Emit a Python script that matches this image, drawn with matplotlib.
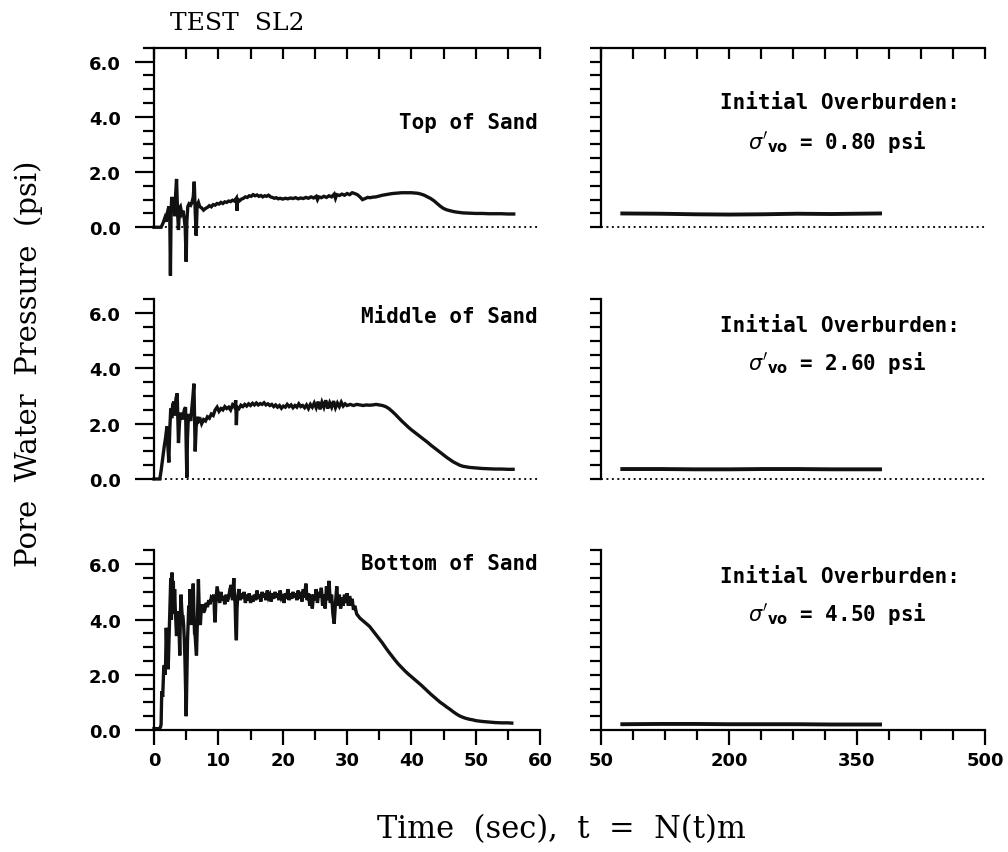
"""Pore water pressure records for test SL2 (top / middle / bottom of sand)."""

import matplotlib.pyplot as plt
from matplotlib.ticker import FixedLocator, MultipleLocator, NullFormatter

# --- data -------------------------------------------------------------------
top_t = [0.0, 1.1, 1.4, 1.7, 1.9, 2.1, 2.3, 2.45, 2.55, 2.65, 2.75, 2.9, 3.05, 3.2, 3.35,
         3.5, 3.65, 3.8, 3.95, 4.1, 4.3, 4.5, 4.7, 4.85, 5.0, 5.1, 5.25, 5.45, 5.7, 5.9,
         6.1, 6.25, 6.4, 6.55, 6.7, 6.9, 7.1, 7.4, 7.7, 8.0, 8.3, 8.6, 8.9, 9.2, 9.5,
         9.8, 10.1, 10.4, 10.7, 11.0, 11.3, 11.6, 11.9, 12.2, 12.5, 12.8, 12.9, 13.0, 13.3,
         13.6, 13.9, 14.2, 14.5, 14.8, 15.1, 15.4, 15.7, 16.0, 16.3, 16.6, 16.9, 17.2, 17.5,
         17.8, 18.1, 18.4, 18.7, 19.0, 19.3, 19.6, 20.0, 20.4, 20.8, 21.2, 21.6, 22.0, 22.4,
         22.8, 23.2, 23.6, 24.0, 24.4, 24.8, 25.2, 25.4, 25.6, 26.0, 26.4, 26.8, 27.2, 27.6,
         28.0, 28.2, 28.4, 28.8, 29.2, 29.6, 30.0, 30.4, 30.8, 31.2, 31.6, 32.0, 32.4, 32.8,
         33.2, 33.6, 34.0, 34.5, 35.0, 35.5, 36.0, 36.5, 37.0, 37.5, 38.0, 38.5, 39.0, 39.5,
         40.0, 40.5, 41.0, 41.5, 42.0, 42.5, 43.0, 43.5, 44.0, 44.5, 45.0, 45.5, 46.0, 46.5,
         47.0, 48.0, 49.0, 50.0, 51.0, 52.0, 53.0, 54.0, 55.0, 55.9]
top_p = [0.0, 0.0, 0.15, 0.35, 0.2, 0.55, 0.75, 0.3, -1.75, 0.5, 1.1, 0.8, 1.0, 0.4, 1.15,
         1.75, 0.6, -0.1, 0.7, 0.75, 0.5, 0.6, 0.3, -0.05, -1.25, 0.2, 0.75, 0.85, 0.8, 0.9,
         1.1, 1.65, 0.6, -0.3, 0.8, 0.9, 0.75, 0.7, 0.62, 0.68, 0.72, 0.78, 0.74, 0.82, 0.8,
         0.86, 0.84, 0.9, 0.86, 0.92, 0.9, 0.95, 0.93, 0.98, 0.95, 1.05, 0.6, 1.02, 0.96,
         1.02, 1.05, 1.1, 1.08, 1.14, 1.12, 1.18, 1.14, 1.17, 1.12, 1.15, 1.1, 1.14, 1.12,
         1.16, 1.1, 1.08, 1.05, 1.07, 1.03, 1.05, 1.02, 1.05, 1.03, 1.06, 1.04, 1.07, 1.03,
         1.06, 1.04, 1.08, 1.05, 1.1, 1.06, 1.12, 1.0, 1.1, 1.07, 1.12, 1.08, 1.14, 1.1,
         1.2, 1.05, 1.18, 1.15, 1.2, 1.16, 1.22, 1.18, 1.25, 1.22, 1.18, 1.1, 1.0, 1.04,
         1.08, 1.07, 1.09, 1.1, 1.13, 1.16, 1.18, 1.2, 1.22, 1.23, 1.24, 1.25, 1.25, 1.25,
         1.25, 1.24, 1.23, 1.2, 1.16, 1.1, 1.04, 0.96, 0.86, 0.76, 0.68, 0.63, 0.6, 0.57,
         0.55, 0.52, 0.51, 0.5, 0.5, 0.49, 0.49, 0.49, 0.48, 0.48]

mid_t = [0.0, 0.9, 1.1, 1.4, 1.6, 1.8, 2.0, 2.15, 2.3, 2.45, 2.6, 2.75, 2.9, 3.1, 3.25,
         3.4, 3.6, 3.7, 3.8, 3.95, 4.1, 4.3, 4.5, 4.7, 4.9, 5.0, 5.1, 5.2, 5.35, 5.5, 5.7,
         5.9, 6.05, 6.2, 6.3, 6.4, 6.55, 6.8, 7.0, 7.2, 7.4, 7.7, 8.0, 8.3, 8.6, 8.9, 9.2,
         9.5, 9.8, 10.1, 10.4, 10.7, 11.0, 11.3, 11.6, 11.9, 12.2, 12.5, 12.7, 12.8, 12.9,
         13.2, 13.5, 13.8, 14.1, 14.4, 14.7, 15.0, 15.3, 15.6, 15.9, 16.2, 16.5, 16.8, 17.1,
         17.4, 17.7, 18.0, 18.3, 18.6, 18.9, 19.2, 19.5, 19.8, 20.1, 20.4, 20.7, 21.0, 21.3,
         21.6, 21.9, 22.2, 22.5, 22.8, 23.1, 23.4, 23.7, 24.0, 24.3, 24.6, 24.9, 25.2, 25.5,
         25.8, 26.1, 26.4, 26.7, 27.0, 27.3, 27.6, 27.9, 28.2, 28.5, 28.8, 29.1, 29.4, 29.7,
         30.0, 30.5, 31.0, 31.5, 32.0, 32.5, 33.0, 33.5, 34.0, 34.5, 35.0, 35.5, 36.0, 36.5,
         37.0, 37.5, 38.0, 38.5, 39.0, 39.5, 40.0, 40.5, 41.0, 41.5, 42.0, 42.5, 43.0, 43.5,
         44.0, 44.5, 45.0, 45.5, 46.0, 46.5, 47.0, 47.5, 48.0, 49.0, 50.0, 51.0, 52.0, 53.0,
         54.0, 55.0, 55.8]
mid_p = [0.0, 0.0, 0.3, 0.85, 1.2, 1.5, 1.9, 1.2, 0.6, 1.8, 2.55, 2.2, 2.7, 2.8, 2.3,
         2.9, 3.1, 2.2, 1.3, 2.0, 2.4, 2.2, 2.2, 2.5, 2.6, 1.2, 0.05, 1.5, 2.3, 2.3, 2.1,
         2.6, 3.0, 3.45, 2.2, 1.0, 1.9, 2.25, 2.1, 2.15, 2.0, 2.15, 2.1, 2.25, 2.2, 2.35, 2.3,
         2.5, 2.6, 2.45, 2.55, 2.5, 2.62, 2.55, 2.6, 2.5, 2.68, 2.6, 2.85, 1.95, 2.6,
         2.55, 2.67, 2.62, 2.7, 2.64, 2.72, 2.66, 2.74, 2.68, 2.75, 2.68, 2.73, 2.7, 2.76,
         2.68, 2.72, 2.66, 2.7, 2.62, 2.68, 2.6, 2.66, 2.56, 2.64, 2.6, 2.7, 2.62, 2.68,
         2.58, 2.66, 2.6, 2.72, 2.62, 2.66, 2.58, 2.68, 2.55, 2.7, 2.6, 2.75, 2.58, 2.8,
         2.52, 2.78, 2.6, 2.85, 2.55, 2.76, 2.6, 2.82, 2.58, 2.75, 2.62, 2.78, 2.64, 2.72,
         2.66, 2.7, 2.66, 2.7, 2.68, 2.66, 2.68, 2.67, 2.68, 2.7, 2.68, 2.66, 2.62, 2.55,
         2.45, 2.34, 2.22, 2.1, 1.99, 1.88, 1.78, 1.69, 1.6, 1.51, 1.42, 1.33, 1.23, 1.14,
         1.05, 0.96, 0.87, 0.78, 0.7, 0.62, 0.56, 0.5, 0.46, 0.42, 0.4, 0.38, 0.37, 0.36,
         0.36, 0.35, 0.35]

bot_t = [0.0, 0.8, 1.0, 1.1, 1.2, 1.35, 1.5, 1.6, 1.7, 1.8, 1.9, 2.0, 2.1, 2.2, 2.3, 2.4,
         2.5, 2.6, 2.7, 2.8, 2.9, 3.0, 3.1, 3.2, 3.3, 3.4, 3.5, 3.6, 3.7, 3.8, 3.9, 4.0,
         4.1, 4.2, 4.3, 4.4, 4.5, 4.6, 4.7, 4.8, 4.9, 5.0, 5.1, 5.2, 5.3, 5.4, 5.5, 5.6,
         5.7, 5.8, 5.9, 6.0, 6.1, 6.2, 6.3, 6.4, 6.5, 6.6, 6.7, 6.8, 6.9, 7.0, 7.1, 7.2,
         7.35, 7.5, 7.7, 7.9, 8.1, 8.3, 8.5, 8.7, 8.9, 9.1, 9.3, 9.4, 9.5, 9.6, 9.8, 10.0,
         10.2, 10.4, 10.6, 10.8, 11.0, 11.2, 11.4, 11.6, 11.8, 12.0, 12.2, 12.4, 12.5, 12.6,
         12.7, 12.8, 12.9, 13.0, 13.2, 13.4, 13.6, 13.8, 14.0, 14.2, 14.4, 14.6, 14.8, 15.0,
         15.2, 15.4, 15.6, 15.8, 16.0, 16.2, 16.4, 16.6, 16.8, 17.0, 17.2, 17.4, 17.6, 17.8,
         18.0, 18.2, 18.4, 18.6, 18.8, 19.0, 19.2, 19.4, 19.6, 19.8, 20.0, 20.2, 20.4, 20.6,
         20.8, 21.0, 21.2, 21.4, 21.6, 21.8, 22.0, 22.2, 22.4, 22.6, 22.8, 23.0, 23.2, 23.4,
         23.6, 23.8, 24.0, 24.2, 24.4, 24.6, 24.8, 25.0, 25.2, 25.4, 25.6, 25.8, 26.0, 26.2,
         26.4, 26.6, 26.8, 27.0, 27.2, 27.4, 27.6, 27.8, 28.0, 28.2, 28.4, 28.6, 28.8, 29.0,
         29.2, 29.4, 29.6, 29.8, 30.0, 30.2, 30.4, 30.6, 30.8, 31.0, 31.2, 31.5, 32.0, 32.5,
         33.0, 33.5, 34.0, 34.5, 35.0, 35.5, 36.0, 36.5, 37.0, 37.5, 38.0, 38.5, 39.0, 39.5,
         40.0, 40.5, 41.0, 41.5, 42.0, 42.5, 43.0, 43.5, 44.0, 44.5, 45.0, 45.5, 46.0, 46.5,
         47.0, 47.5, 48.0, 48.5, 49.0, 49.5, 50.0, 51.0, 52.0, 53.0, 54.0, 55.0, 55.6]
bot_p = [0.05, 0.05, 0.1, 0.2, 1.4, 1.2, 2.2, 2.35, 2.0, 2.4, 3.7, 2.9, 3.2, 2.2, 3.0, 3.8,
         4.6, 5.5, 4.0, 5.7, 4.5, 5.4, 4.2, 5.1, 4.4, 3.9, 3.4, 4.3, 4.1, 4.0, 3.6, 2.7,
         4.2, 4.9, 4.4, 4.1, 4.1, 3.8, 3.3, 2.6, 1.5, 0.5, 1.8, 3.2, 3.9, 4.5, 4.2, 5.1,
         4.3, 3.8, 4.6, 4.9, 5.3, 4.2, 3.5, 3.4, 3.0, 2.7, 3.6, 4.5, 5.45, 4.6, 4.0, 3.8,
         4.4, 4.55, 4.25, 4.35, 4.6, 4.45, 4.7, 4.55, 4.8, 4.75, 4.9, 4.2, 3.9, 4.6, 5.2, 4.9,
         4.6, 5.0, 4.7, 4.85, 4.55, 4.9, 4.65, 4.8, 5.1, 5.25, 4.7, 5.5, 4.9, 4.6,
         3.7, 3.25, 4.4, 4.8, 5.1, 4.7, 4.95, 4.75, 5.0, 4.6, 4.9, 4.7, 4.95, 4.6,
         4.85, 4.65, 4.9, 4.7, 5.05, 4.75, 4.9, 4.65, 5.0, 4.8, 4.95, 4.7, 5.05, 4.8,
         4.9, 4.65, 4.95, 4.75, 5.0, 4.8, 4.95, 4.7, 5.05, 4.8, 4.9, 4.6, 4.95, 4.75,
         5.1, 4.7, 4.95, 4.75, 5.0, 4.8, 4.95, 4.7, 5.05, 4.75, 5.0, 4.65, 5.1, 4.8,
         5.3, 4.7, 4.95, 4.5, 4.9, 4.4, 4.9, 4.7, 5.1, 4.6, 5.0, 4.8, 5.15, 4.5,
         4.9, 4.4, 5.2, 4.7, 5.4, 4.6, 4.9, 4.2, 3.85, 4.6, 5.2, 4.5, 4.9, 4.4,
         4.8, 4.5, 4.9, 4.6, 4.95, 4.5, 4.85, 4.5, 4.75, 4.35, 4.5, 4.2, 4.05, 3.95,
         3.85, 3.75, 3.6, 3.45, 3.3, 3.15, 2.98, 2.82, 2.67, 2.52, 2.38, 2.26, 2.14, 2.03,
         1.93, 1.83, 1.73, 1.63, 1.52, 1.41, 1.3, 1.2, 1.1, 1.0, 0.92, 0.83, 0.75, 0.66,
         0.58, 0.51, 0.46, 0.42, 0.39, 0.37, 0.34, 0.31, 0.29, 0.27, 0.26, 0.26, 0.25]

# N(t) scale (right-hand panels)
top_n = [75, 120, 160, 200, 240, 280, 320, 377]
top_n_p = [0.5, 0.49, 0.47, 0.46, 0.47, 0.49, 0.48, 0.5]
mid_n = [75, 120, 160, 200, 240, 280, 320, 377]
mid_n_p = [0.36, 0.36, 0.35, 0.35, 0.36, 0.36, 0.35, 0.35]
bot_n = [75, 120, 160, 200, 240, 280, 320, 377]
bot_n_p = [0.21, 0.22, 0.22, 0.21, 0.21, 0.21, 0.2, 0.2]

labels = ["Top of Sand", "Middle of Sand", "Bottom of Sand"]
overburden = ["0.80", "2.60", "4.50"]
y_ticks = [0.0, 2.0, 4.0, 6.0]
x_ticks_right = [50, 200, 350, 500]

# --- layout -------------------------------------------------------------------
fig = plt.figure(figsize=(10.08, 8.53), dpi=100)

row_bottoms = [0.7324, 0.4373, 0.1430]
row_h = 0.2105
left_x, left_w = 0.1528, 0.383
right_x, right_w = 0.5962, 0.381

label_font = dict(family="DejaVu Sans Mono", weight="bold", size=15)
tick_font = dict(family="DejaVu Sans", weight="bold", size=13)
ink = "#111111"

left_series = [(top_t, top_p), (mid_t, mid_p), (bot_t, bot_p)]
right_series = [(top_n, top_n_p), (mid_n, mid_n_p), (bot_n, bot_n_p)]
# annotation heights (axes fraction) for each row
name_y = [0.584, 0.905, 0.93]
head_y = [0.70, 0.86, 0.86]
sig_y = [0.478, 0.65, 0.65]


def style_axes(ax, row, left):
    ax.set_ylim(0, 6.5)
    for side in ["right", "top", "bottom", "left"]:
        ax.spines[side].set_visible(False)
    ax.spines["left"].set_visible(True)
    ax.spines["left"].set_linewidth(1.6)

    ax.yaxis.set_major_locator(FixedLocator(y_ticks))
    ax.yaxis.set_minor_locator(MultipleLocator(0.5))
    if left:
        ax.set_yticklabels([f"{v:.1f}" for v in y_ticks], fontdict=tick_font)
        ax.tick_params(axis="y", which="major", length=14, width=1.6, pad=10)
    else:
        ax.yaxis.set_major_formatter(NullFormatter())
        ax.tick_params(axis="y", which="major", length=8, width=1.6)
    ax.tick_params(axis="y", which="minor", length=8, width=1.6)

    if left:
        ax.set_xlim(0, 60)
        ax.xaxis.set_major_locator(MultipleLocator(10))
        ax.xaxis.set_minor_locator(MultipleLocator(5))
    else:
        ax.set_xlim(50, 500)
        ax.xaxis.set_major_locator(FixedLocator(x_ticks_right))
        ax.xaxis.set_minor_locator(MultipleLocator(37.5, offset=50))

    if row == 0:
        ax.spines["top"].set_visible(True)
        ax.spines["top"].set_linewidth(1.6)
        ax.tick_params(axis="x", which="both", top=True, bottom=False, labeltop=False,
                       labelbottom=False, direction="in", length=8, width=1.6)
    elif row == 2:
        ax.spines["bottom"].set_visible(True)
        ax.spines["bottom"].set_linewidth(1.6)
        ax.tick_params(axis="x", which="major", length=11, width=1.6, pad=4)
        ax.tick_params(axis="x", which="minor", length=7, width=1.6)
        for lab in ax.get_xticklabels():
            lab.set_fontfamily(tick_font["family"])
            lab.set_fontweight("bold")
            lab.set_fontsize(tick_font["size"])
    else:
        ax.tick_params(axis="x", which="both", bottom=False, labelbottom=False)

    if row < 2:
        ax.axhline(0, color=ink, lw=1.4, linestyle=(0, (1, 1.8)), clip_on=False)


for row in range(3):
    ax_l = fig.add_axes([left_x, row_bottoms[row], left_w, row_h])
    ax_r = fig.add_axes([right_x, row_bottoms[row], right_w, row_h])
    ax_l.set_facecolor("none")
    ax_r.set_facecolor("none")

    t, p = left_series[row]
    ax_l.plot(t, p, color=ink, lw=2.4, clip_on=False, solid_joinstyle="miter")
    n, q = right_series[row]
    ax_r.plot(n, q, color=ink, lw=2.8)

    style_axes(ax_l, row, True)
    style_axes(ax_r, row, False)

    ax_l.text(0.995, name_y[row], labels[row], transform=ax_l.transAxes,
              ha="right", va="center", **label_font)
    ax_r.text(0.31, head_y[row], "Initial Overburden:", transform=ax_r.transAxes,
              ha="left", va="center", **label_font)
    ax_r.text(0.383, sig_y[row], r"$\sigma'_{\mathbf{vo}}$ = " + overburden[row] + " psi",
              transform=ax_r.transAxes, ha="left", va="center", **label_font)

fig.text(0.169, 0.972, "TEST  SL2", family="DejaVu Serif", size=18, ha="left", va="center")
fig.text(0.028, 0.573, "Pore  Water  Pressure  (psi)", family="DejaVu Serif", size=21,
         rotation=90, ha="center", va="center")
fig.text(0.557, 0.027, "Time  (sec),  t  =  N(t)m", family="DejaVu Serif", size=22,
         ha="center", va="center")

fig.savefig("out.png", dpi=100)
